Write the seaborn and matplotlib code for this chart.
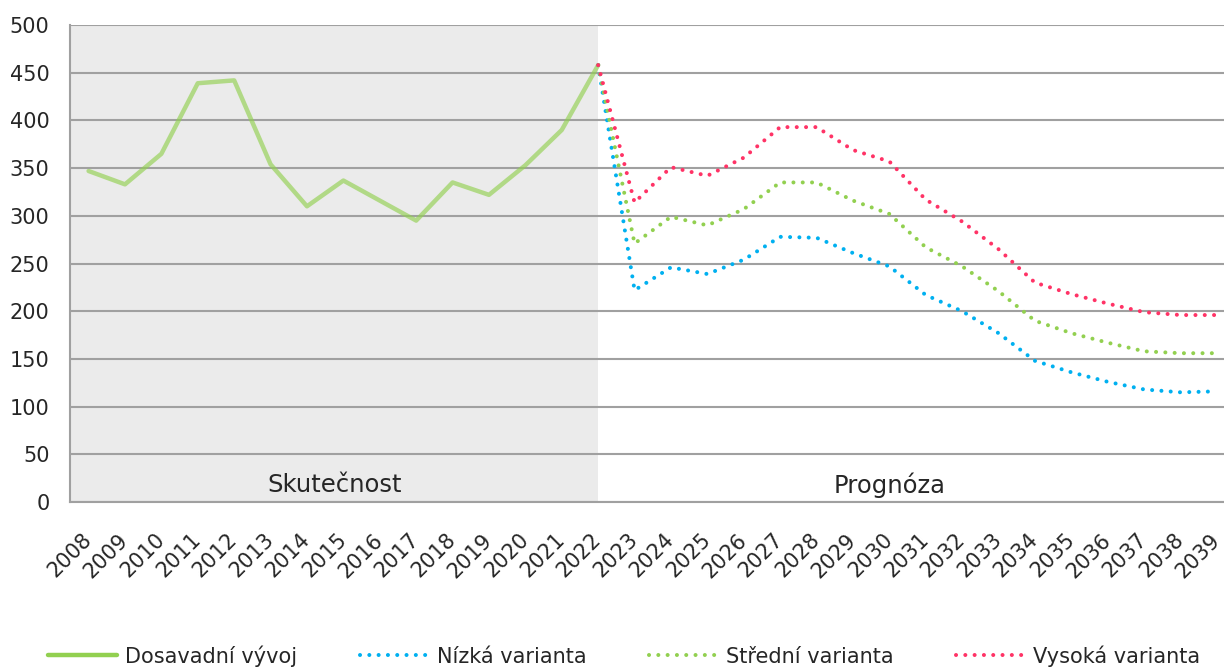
import matplotlib
matplotlib.use("Agg")
import matplotlib.pyplot as plt
import seaborn as sns
import numpy as np
from matplotlib.lines import Line2D
from matplotlib.transforms import ScaledTranslation

# ==========================
# DATA
# ==========================

years = [2008, 2009, 2010, 2011, 2012, 2013, 2014, 2015, 2016, 2017, 2018,
         2019, 2020, 2021, 2022, 2023, 2024, 2025, 2026, 2027, 2028, 2029,
         2030, 2031, 2032, 2033, 2034, 2035, 2036, 2037, 2038, 2039]

hist_years = years[:15]        # 2008-2022
fc_years = years[14:]          # 2022-2039

actual = [347, 333, 365, 439, 442, 354, 310, 337, 316, 295, 335, 322, 353, 390, 458]

low = [458, 222, 246, 239, 254, 278, 277, 261, 247, 217, 200, 177, 148, 136, 126, 118, 115, 116]
mid = [458, 271, 299, 290, 307, 335, 335, 316, 302, 267, 247, 221, 190, 177, 167, 158, 156, 156]
high = [458, 314, 351, 342, 361, 393, 393, 369, 357, 317, 294, 265, 230, 218, 208, 199, 196, 196]

labels = ["Dosavadní vývoj", "Nízká varianta", "Střední varianta", "Vysoká varianta"]
region_labels = ["Skutečnost", "Prognóza"]

# ==========================
# STYLE
# ==========================

sns.set_style("white")
plt.rcParams["font.family"] = ["DejaVu Sans"]

GRID = "#A0A0A0"
C_ACT = "#92D050"
C_LOW = "#00B0F0"
C_MID = "#92D050"
C_HIGH = "#FF3366"
DOT = (0, (0.01, 2.3))
FS = 15

fig = plt.figure(figsize=(12.24, 6.68), dpi=100)
ax = fig.add_axes([0.0575, 0.2485, 0.9516, 0.714])

hist_x = [years.index(y) for y in hist_years]
fc_x = [years.index(y) for y in fc_years]

# shaded "history" part
ax.axvspan(-0.5, hist_x[-1], color="#EBEBEB", lw=0, zorder=0)

# ==========================
# LINES
# ==========================

sns.lineplot(x=hist_x, y=actual, color=C_ACT, alpha=0.65, lw=3.2, ax=ax, zorder=3)
for vals, col, z in [(low, C_LOW, 4), (mid, C_MID, 5), (high, C_HIGH, 6)]:
    sns.lineplot(x=fc_x, y=vals, color=col, lw=2.9, ax=ax, zorder=z)
    ax.lines[-1].set_linestyle(DOT)
    ax.lines[-1].set_dash_capstyle("round")

# ==========================
# AXES
# ==========================

ax.set_xlim(-0.5, len(years) - 0.5)
ax.set_ylim(0, 500)
ax.set_yticks(np.arange(0, 501, 50))
ax.yaxis.grid(True, color=GRID, lw=1.5)
ax.xaxis.grid(False)
ax.set_axisbelow(True)

ax.set_xticks(range(len(years)))
ax.set_xticklabels([str(y) for y in years], rotation=45, ha="right",
                   va="center", rotation_mode="anchor")
ax.set_xticks(np.arange(len(years) + 1) - 0.5, minor=True)
ax.tick_params(axis="x", which="major", length=0, pad=25, labelsize=FS)
ax.tick_params(axis="x", which="minor", length=7, width=1.5, color=GRID)
ax.tick_params(axis="y", length=7, width=1.5, color=GRID, pad=8, labelsize=FS)
for lbl in ax.get_xticklabels():
    lbl.set_transform(lbl.get_transform() + ScaledTranslation(0.0, 0, fig.dpi_scale_trans))

for s in ["top", "right"]:
    ax.spines[s].set_visible(False)
for s in ["left", "bottom"]:
    ax.spines[s].set_color(GRID)
    ax.spines[s].set_linewidth(1.5)

ax.set_xlabel("")
ax.set_ylabel("")

ax.text((hist_x[-1] - 0.5) / 2, 18, region_labels[0], ha="center", va="center", fontsize=17.5)
ax.text(22, 18, region_labels[1], ha="center", va="center", fontsize=17.5)

# ==========================
# LEGEND
# ==========================

handles = [
    Line2D([], [], color=C_ACT, lw=3.2),
    Line2D([], [], color=C_LOW, lw=2.9, linestyle=DOT, dash_capstyle="round"),
    Line2D([], [], color=C_MID, lw=2.9, linestyle=DOT, dash_capstyle="round"),
    Line2D([], [], color=C_HIGH, lw=2.9, linestyle=DOT, dash_capstyle="round"),
]
fig.legend(handles, labels, loc="center", bbox_to_anchor=(0.51, 0.018), ncol=4,
           frameon=False, fontsize=FS, handlelength=3.3, handletextpad=0.4,
           columnspacing=3.0)

fig.savefig("out.png", dpi=100)
plt.close()
